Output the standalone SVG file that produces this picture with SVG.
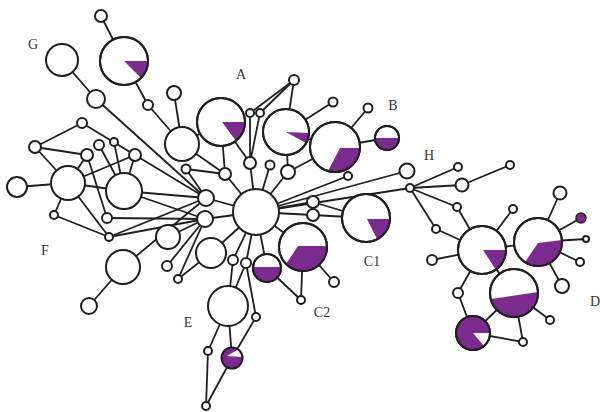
<svg xmlns="http://www.w3.org/2000/svg" width="600" height="412" viewBox="0 0 600 412">
<style>
.n{fill:#fff;stroke:#1e1e1e;stroke-width:2}
.o{fill:none;stroke:#1e1e1e;stroke-width:2}
.p{fill:#7b2a8e}
.w{fill:#fff}
.e line{stroke:#1e1e1e;stroke-width:1.8}
.t{font-family:"Liberation Serif",serif;font-size:14px;fill:#333}
</style>
<rect width="600" height="412" fill="#fff"/>
<g class="e" id="connectors">
<line x1="101" y1="16" x2="124" y2="61"/>
<line x1="124" y1="61" x2="148" y2="105"/>
<line x1="148" y1="105" x2="182" y2="144"/>
<line x1="174" y1="93" x2="182" y2="144"/>
<line x1="62" y1="60" x2="96" y2="99"/>
<line x1="96" y1="99" x2="206" y2="198"/>
<line x1="182" y1="144" x2="221" y2="122"/>
<line x1="182" y1="144" x2="225" y2="174"/>
<line x1="221" y1="122" x2="225" y2="174"/>
<line x1="221" y1="122" x2="250" y2="163"/>
<line x1="250" y1="113" x2="250" y2="163"/>
<line x1="260" y1="113" x2="250" y2="163"/>
<line x1="294" y1="80" x2="250" y2="113"/>
<line x1="294" y1="80" x2="260" y2="113"/>
<line x1="294" y1="80" x2="286" y2="132"/>
<line x1="286" y1="132" x2="333" y2="102"/>
<line x1="286" y1="132" x2="335" y2="147"/>
<line x1="286" y1="132" x2="288" y2="172"/>
<line x1="335" y1="147" x2="368" y2="108"/>
<line x1="335" y1="147" x2="387" y2="138"/>
<line x1="335" y1="147" x2="288" y2="172"/>
<line x1="186" y1="169" x2="225" y2="174"/>
<line x1="186" y1="169" x2="206" y2="198"/>
<line x1="250" y1="163" x2="256" y2="212"/>
<line x1="225" y1="174" x2="256" y2="212"/>
<line x1="270" y1="165" x2="256" y2="212"/>
<line x1="288" y1="172" x2="256" y2="212"/>
<line x1="348" y1="176" x2="256" y2="212"/>
<line x1="407" y1="171" x2="256" y2="212"/>
<line x1="410" y1="188" x2="256" y2="212"/>
<line x1="313" y1="202" x2="256" y2="212"/>
<line x1="313" y1="215" x2="256" y2="212"/>
<line x1="313" y1="202" x2="366" y2="218"/>
<line x1="313" y1="215" x2="366" y2="218"/>
<line x1="206" y1="198" x2="256" y2="212"/>
<line x1="205" y1="219" x2="256" y2="212"/>
<line x1="211" y1="253" x2="256" y2="212"/>
<line x1="233" y1="260" x2="256" y2="212"/>
<line x1="246" y1="263" x2="256" y2="212"/>
<line x1="267" y1="268" x2="256" y2="212"/>
<line x1="303" y1="247" x2="256" y2="212"/>
<line x1="267" y1="268" x2="301" y2="300"/>
<line x1="303" y1="247" x2="301" y2="300"/>
<line x1="303" y1="247" x2="334" y2="282"/>
<line x1="228" y1="306" x2="233" y2="260"/>
<line x1="228" y1="306" x2="246" y2="263"/>
<line x1="246" y1="263" x2="256" y2="317"/>
<line x1="256" y1="317" x2="232" y2="358"/>
<line x1="228" y1="306" x2="208" y2="351"/>
<line x1="228" y1="306" x2="232" y2="358"/>
<line x1="208" y1="351" x2="206" y2="406"/>
<line x1="232" y1="358" x2="206" y2="406"/>
<line x1="168" y1="237" x2="205" y2="219"/>
<line x1="167" y1="266" x2="205" y2="219"/>
<line x1="178" y1="279" x2="205" y2="219"/>
<line x1="178" y1="279" x2="211" y2="253"/>
<line x1="123" y1="267" x2="206" y2="198"/>
<line x1="123" y1="267" x2="89" y2="306"/>
<line x1="82" y1="123" x2="35" y2="147"/>
<line x1="82" y1="123" x2="135" y2="155"/>
<line x1="35" y1="147" x2="68" y2="183"/>
<line x1="35" y1="147" x2="87" y2="155"/>
<line x1="17" y1="187" x2="68" y2="183"/>
<line x1="68" y1="183" x2="54" y2="215"/>
<line x1="68" y1="183" x2="87" y2="155"/>
<line x1="68" y1="183" x2="135" y2="155"/>
<line x1="68" y1="183" x2="124" y2="191"/>
<line x1="68" y1="183" x2="109" y2="237"/>
<line x1="54" y1="215" x2="109" y2="237"/>
<line x1="87" y1="155" x2="107" y2="218"/>
<line x1="99" y1="145" x2="124" y2="191"/>
<line x1="114" y1="142" x2="124" y2="191"/>
<line x1="135" y1="155" x2="124" y2="191"/>
<line x1="135" y1="155" x2="206" y2="198"/>
<line x1="124" y1="191" x2="206" y2="198"/>
<line x1="124" y1="191" x2="205" y2="219"/>
<line x1="107" y1="218" x2="205" y2="219"/>
<line x1="109" y1="237" x2="206" y2="198"/>
<line x1="109" y1="237" x2="205" y2="219"/>
<line x1="410" y1="188" x2="458" y2="167"/>
<line x1="410" y1="188" x2="462" y2="185"/>
<line x1="410" y1="188" x2="457" y2="207"/>
<line x1="410" y1="188" x2="436" y2="229"/>
<line x1="462" y1="185" x2="510" y2="165"/>
<line x1="457" y1="207" x2="482" y2="250"/>
<line x1="436" y1="229" x2="482" y2="250"/>
<line x1="482" y1="250" x2="513" y2="209"/>
<line x1="482" y1="250" x2="432" y2="260"/>
<line x1="482" y1="250" x2="538" y2="242"/>
<line x1="482" y1="250" x2="458" y2="293"/>
<line x1="482" y1="250" x2="514" y2="293"/>
<line x1="458" y1="293" x2="473" y2="333"/>
<line x1="473" y1="333" x2="514" y2="293"/>
<line x1="473" y1="333" x2="523" y2="342"/>
<line x1="514" y1="293" x2="523" y2="342"/>
<line x1="514" y1="293" x2="550" y2="320"/>
<line x1="538" y1="242" x2="560" y2="193"/>
<line x1="538" y1="242" x2="581" y2="218"/>
<line x1="538" y1="242" x2="586" y2="239"/>
<line x1="538" y1="242" x2="580" y2="262"/>
<line x1="538" y1="242" x2="562" y2="286"/>
</g>
<g id="N1"><circle class="n" cx="101" cy="16" r="6"/></g>
<g id="N2"><circle class="n" cx="124" cy="61" r="24"/><path class="p" d="M124,61 L148,61 A24,24 0 0 1 141,78 Z"/><circle class="o" cx="124" cy="61" r="24"/></g>
<g id="N3"><circle class="n" cx="62" cy="60" r="16"/></g>
<g id="N4"><circle class="n" cx="96" cy="99" r="9"/></g>
<g id="N5"><circle class="n" cx="148" cy="105" r="5"/></g>
<g id="N6"><circle class="n" cx="174" cy="93" r="7"/></g>
<g id="N7"><circle class="n" cx="182" cy="144" r="17"/></g>
<g id="N8"><circle class="n" cx="221" cy="122" r="24"/><path class="p" d="M222,122 L245,122 A24,24 0 0 1 236,141 Z"/><circle class="o" cx="221" cy="122" r="24"/></g>
<g id="N9"><circle class="n" cx="294" cy="80" r="5"/></g>
<g id="N10"><circle class="n" cx="250" cy="113" r="4"/></g>
<g id="N11"><circle class="n" cx="260" cy="113" r="4"/></g>
<g id="N12"><circle class="n" cx="286" cy="132" r="23"/><path class="p" d="M286,132 L309,133 A23,23 0 0 1 306,143 Z"/><circle class="o" cx="286" cy="132" r="23"/></g>
<g id="N13"><circle class="n" cx="333" cy="102" r="4.5"/></g>
<g id="N14"><circle class="n" cx="335" cy="147" r="25"/><path class="p" d="M340,148 L360,148 A25,25 0 0 1 328,171 Z"/><circle class="o" cx="335" cy="147" r="25"/></g>
<g id="N15"><circle class="n" cx="368" cy="108" r="4.5"/></g>
<g id="N16"><circle class="n" cx="387" cy="138" r="12"/><path class="p" d="M375,138 A12,12 0 0 0 399,138 Z"/><circle class="o" cx="387" cy="138" r="12"/></g>
<g id="N17"><circle class="n" cx="407" cy="171" r="7.5"/></g>
<g id="N18"><circle class="n" cx="348" cy="176" r="4"/></g>
<g id="N19"><circle class="n" cx="270" cy="165" r="4.5"/></g>
<g id="N20"><circle class="n" cx="288" cy="172" r="7"/></g>
<g id="N21"><circle class="n" cx="250" cy="163" r="6"/></g>
<g id="N22"><circle class="n" cx="225" cy="174" r="6"/></g>
<g id="N23"><circle class="n" cx="186" cy="169" r="4.5"/></g>
<g id="HUB"><circle class="n" cx="256" cy="212" r="23"/></g>
<g id="N24"><circle class="n" cx="206" cy="198" r="8"/></g>
<g id="N25"><circle class="n" cx="205" cy="219" r="8"/></g>
<g id="N26"><circle class="n" cx="168" cy="237" r="12"/></g>
<g id="N27"><circle class="n" cx="211" cy="253" r="15"/></g>
<g id="N28"><circle class="n" cx="267" cy="268" r="14"/><path class="p" d="M253.1,267 A14,14 0 1 0 280.9,267 Z"/><circle class="o" cx="267" cy="268" r="14"/></g>
<g id="N29"><circle class="n" cx="303" cy="247" r="24"/><path class="p" d="M298,246 L327,246 A24,24 0 0 1 286,264 Z"/><circle class="o" cx="303" cy="247" r="24"/></g>
<g id="C1"><circle class="n" cx="366" cy="218" r="24"/><path class="p" d="M367,219 L390,219 A24,24 0 0 1 377,239 Z"/><circle class="o" cx="366" cy="218" r="24"/></g>
<g id="S1"><circle class="n" cx="313" cy="202" r="6"/></g>
<g id="S2"><circle class="n" cx="313" cy="215" r="6"/></g>
<g id="N31"><circle class="n" cx="334" cy="282" r="5"/></g>
<g id="N32"><circle class="n" cx="301" cy="300" r="4"/></g>
<g id="S3"><circle class="n" cx="233" cy="260" r="5"/></g>
<g id="S4"><circle class="n" cx="246" cy="263" r="5"/></g>
<g id="E"><circle class="n" cx="228" cy="306" r="20"/></g>
<g id="N33"><circle class="n" cx="256" cy="317" r="4"/></g>
<g id="N34"><circle class="n" cx="208" cy="351" r="4"/></g>
<g id="EP"><circle class="p" cx="232" cy="358" r="10.5"/><path class="w" d="M227,356 L242.5,357 A10.5,10.5 0 0 0 238,349.5 Z"/><circle class="o" cx="232" cy="358" r="10.5"/></g>
<g id="N35"><circle class="n" cx="206" cy="406" r="4"/></g>
<g id="N36"><circle class="n" cx="167" cy="266" r="5"/></g>
<g id="N37"><circle class="n" cx="178" cy="279" r="4"/></g>
<g id="Fa"><circle class="n" cx="35" cy="147" r="6"/></g>
<g id="Fb"><circle class="n" cx="17" cy="187" r="10"/></g>
<g id="Fc"><circle class="n" cx="68" cy="183" r="17"/></g>
<g id="Fd"><circle class="n" cx="54" cy="215" r="4"/></g>
<g id="Fe"><circle class="n" cx="87" cy="155" r="6"/></g>
<g id="Ff"><circle class="n" cx="99" cy="145" r="5"/></g>
<g id="Fg"><circle class="n" cx="114" cy="142" r="4"/></g>
<g id="Fh"><circle class="n" cx="135" cy="155" r="6"/></g>
<g id="Fi"><circle class="n" cx="124" cy="191" r="18"/></g>
<g id="Fj"><circle class="n" cx="107" cy="218" r="5"/></g>
<g id="Fk"><circle class="n" cx="109" cy="237" r="4"/></g>
<g id="Ftop"><circle class="n" cx="82" cy="123" r="5"/></g>
<g id="Fl"><circle class="n" cx="123" cy="267" r="17"/></g>
<g id="Fm"><circle class="n" cx="89" cy="306" r="8"/></g>
<g id="HH"><circle class="n" cx="410" cy="188" r="4"/></g>
<g id="H1"><circle class="n" cx="458" cy="167" r="4"/></g>
<g id="H2"><circle class="n" cx="462" cy="185" r="6.5"/></g>
<g id="H3"><circle class="n" cx="510" cy="165" r="4"/></g>
<g id="H4"><circle class="n" cx="457" cy="207" r="4"/></g>
<g id="H5"><circle class="n" cx="436" cy="229" r="4"/></g>
<g id="H6"><circle class="n" cx="513" cy="209" r="4"/></g>
<g id="H7"><circle class="n" cx="432" cy="260" r="5"/></g>
<g id="D1"><circle class="n" cx="482" cy="250" r="24"/><path class="p" d="M483,250 L506,250 A24,24 0 0 1 496,270 Z"/><circle class="o" cx="482" cy="250" r="24"/></g>
<g id="D2"><circle class="n" cx="538" cy="242" r="24"/><path class="p" d="M538,243 L562,240 A24,24 0 0 1 525,262 Z"/><circle class="o" cx="538" cy="242" r="24"/></g>
<g id="D3"><circle class="n" cx="514" cy="293" r="24"/><path class="p" d="M538,292 A24,24 0 0 1 491,299 Z"/><circle class="o" cx="514" cy="293" r="24"/></g>
<g id="D4"><circle class="n" cx="473" cy="333" r="17"/><path class="p" d="M473,333 L484,346 A17,17 0 1 1 490,333 Z"/><circle class="o" cx="473" cy="333" r="17"/></g>
<g id="H8"><circle class="n" cx="458" cy="293" r="5"/></g>
<g id="D5"><circle class="n" cx="560" cy="193" r="6.5"/></g>
<g id="DP"><circle class="p" cx="581" cy="218" r="5" stroke="#1e1e1e" stroke-width="1.5"/></g>
<g id="D6"><circle class="n" cx="586" cy="239" r="3"/></g>
<g id="D7"><circle class="n" cx="580" cy="262" r="4"/></g>
<g id="D8"><circle class="n" cx="562" cy="286" r="7"/></g>
<g id="D9"><circle class="n" cx="550" cy="320" r="4"/></g>
<g id="D10"><circle class="n" cx="523" cy="342" r="4"/></g>
<g id="labels">
<text class="t" x="33" y="49" text-anchor="middle">G</text>
<text class="t" x="241" y="79" text-anchor="middle">A</text>
<text class="t" x="393" y="110" text-anchor="middle">B</text>
<text class="t" x="429" y="160" text-anchor="middle">H</text>
<text class="t" x="45" y="255" text-anchor="middle">F</text>
<text class="t" x="372" y="266" text-anchor="middle">C1</text>
<text class="t" x="188" y="327" text-anchor="middle">E</text>
<text class="t" x="322" y="317" text-anchor="middle">C2</text>
<text class="t" x="595" y="306" text-anchor="middle">D</text>
</g>
</svg>
